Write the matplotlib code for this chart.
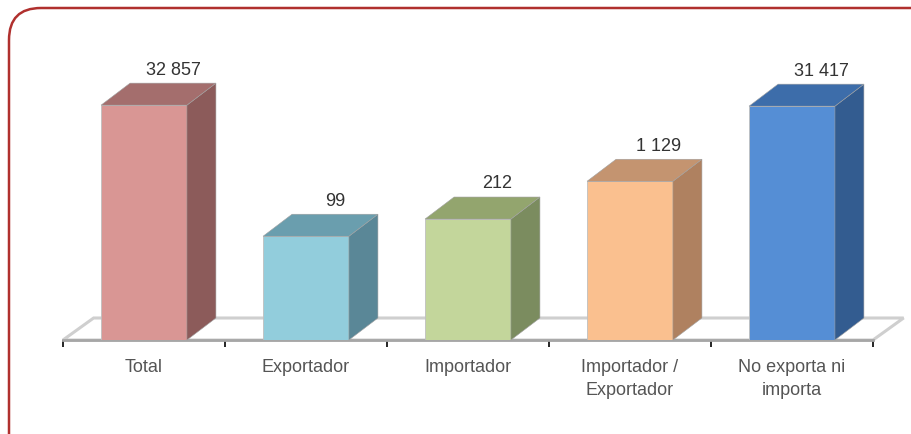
import numpy as np
import matplotlib
matplotlib.use('Agg')
import matplotlib.pyplot as plt
from matplotlib.patches import Polygon, FancyBboxPatch
from matplotlib import font_manager

categories = ['Total', 'Exportador', 'Importador', 'Importador /\nExportador', 'No exporta ni\nimporta']
values = [32857, 99, 212, 1129, 31417]
front_colors = ['#D99694', '#92CDDC', '#C3D69B', '#FAC08F', '#558ED5']
side_colors = ['#8C5B5A', '#5A8797', '#7B8C5F', '#AF8160', '#335C90']
top_colors = ['#A46E6D', '#6A9EAE', '#93A56E', '#C49470', '#3D6DAA']

names = set(f.name for f in font_manager.fontManager.ttflist)
if 'Liberation Sans Narrow' in names:
    fam, fs = 'Liberation Sans Narrow', 15
else:
    fam, fs = 'Liberation Sans', 13
plt.rcParams['font.family'] = [fam, 'DejaVu Sans']

fig = plt.figure(figsize=(9.12, 4.35), dpi=100)
# rounded border, runs past the right and bottom edge
border = FancyBboxPatch((9 / 912, -0.2), 1.2, 1.2 - 9 / 435, transform=fig.transFigure,
                        boxstyle='round,pad=0,rounding_size=0.035', fc='none', ec='#B0302E', lw=1.8,
                        mutation_aspect=912 / 435)
fig.patches.append(border)

ax = fig.add_axes([63 / 912, 94 / 435, 810 / 912, 260 / 435])
ax.set_xlim(-0.5, 4.5)
ax.set_ylim(0, 5)
ax.patch.set_visible(False)

heights = np.log10(values)
w = 0.53
dx = 29 / 162
dy = 22 / 52

# floor
floor = Polygon([(-0.5, 0), (4.5, 0), (4.5 + dx + 0.01, dy), (-0.5 + dx + 0.01, dy)], closed=True,
                fc='white', ec='#CFCFCF', lw=2.2, clip_on=False, zorder=1)
ax.add_patch(floor)

x = np.arange(len(values))
ax.bar(x, heights, w, color=front_colors, edgecolor='#BFBFBF', linewidth=0.6, zorder=3)
for i, h in enumerate(heights):
    r = x[i] + w / 2
    l = x[i] - w / 2
    ax.add_patch(Polygon([(r, 0), (r + dx, dy), (r + dx, h + dy), (r, h)], closed=True,
                         fc=side_colors[i], ec='#A0A0A0', lw=0.4, zorder=3, clip_on=False))
    ax.add_patch(Polygon([(l, h), (r, h), (r + dx, h + dy), (l + dx, h + dy)], closed=True,
                         fc=top_colors[i], ec='#A0A0A0', lw=0.4, zorder=3, clip_on=False))
    ax.annotate(f'{values[i]:,}'.replace(',', ' '), (x[i] + dx, h + dy), xytext=(0, 4),
                textcoords='offset points', ha='center', va='bottom', fontsize=fs,
                color='#333333', clip_on=False)

for s in ['top', 'right', 'left']:
    ax.spines[s].set_visible(False)
ax.spines['bottom'].set_color('#A6A6A6')
ax.spines['bottom'].set_linewidth(2)
ax.set_yticks([])
ax.set_xticks(np.arange(-0.5, 5, 1))
ax.set_xticklabels([])
ax.tick_params(axis='x', which='major', length=5, width=1.2, color='black', direction='out')
ax.set_xticks(x, minor=True)
ax.set_xticklabels(categories, minor=True, fontsize=fs, color='#555555', linespacing=1.45)
ax.tick_params(axis='x', which='minor', length=0, pad=13)

fig.savefig('out.png', dpi=100)
